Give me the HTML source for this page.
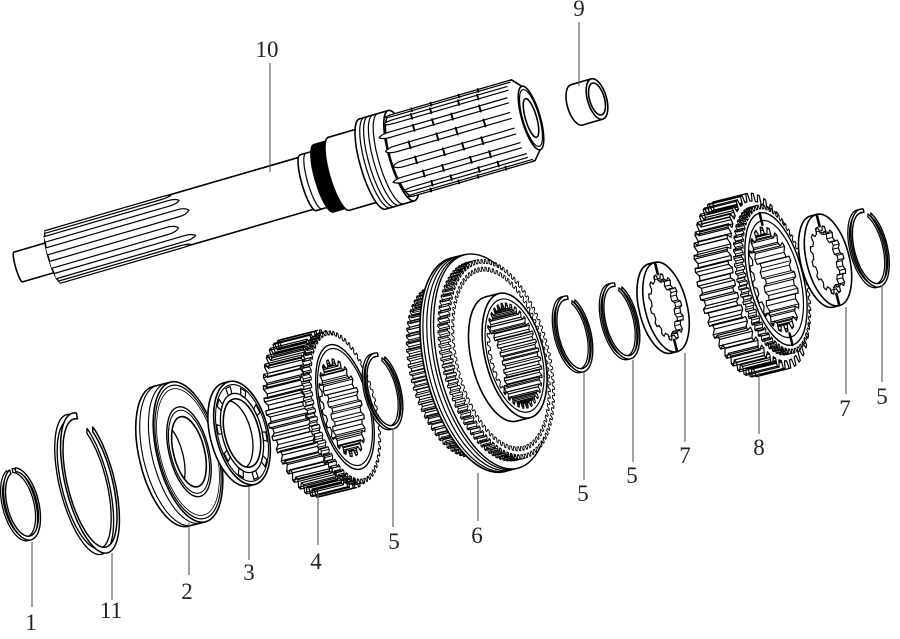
<!DOCTYPE html>
<html><head><meta charset="utf-8"><style>
html,body{margin:0;padding:0;background:#fff;width:900px;height:639px;overflow:hidden}
svg{display:block}
.lb{font-family:"Liberation Serif","DejaVu Serif",serif;font-size:23px;fill:#222;text-anchor:middle}
</style></head><body>
<svg id="s" xmlns="http://www.w3.org/2000/svg" width="900" height="639" viewBox="0 0 900 639">
<rect width="900" height="639" fill="#fff"/>
<g id="parts" stroke-linejoin="round" stroke-linecap="round"></g>
<g stroke="#555" stroke-width="1.1">
<line x1="270" y1="63" x2="270" y2="172"/>
<line x1="579" y1="22" x2="579" y2="86"/>
<line x1="32" y1="542" x2="32" y2="607"/>
<line x1="112" y1="553" x2="112" y2="600"/>
<line x1="189" y1="523" x2="189" y2="575"/>
<line x1="249" y1="487" x2="249" y2="560"/>
<line x1="318" y1="493" x2="318" y2="545"/>
<line x1="393" y1="428" x2="393" y2="527"/>
<line x1="478" y1="473" x2="478" y2="521"/>
<line x1="584" y1="372" x2="584" y2="480"/>
<line x1="633" y1="360" x2="633" y2="462"/>
<line x1="685" y1="353" x2="685" y2="442"/>
<line x1="759" y1="373" x2="759" y2="434"/>
<line x1="846" y1="307" x2="846" y2="394"/>
<line x1="882" y1="285" x2="882" y2="382"/>
</g>
<g class="lb">
<text x="267" y="57">10</text>
<text x="579" y="16">9</text>
<text x="31" y="630">1</text>
<text x="111" y="618">11</text>
<text x="187" y="599">2</text>
<text x="249" y="580">3</text>
<text x="316" y="569">4</text>
<text x="394" y="549">5</text>
<text x="477" y="543">6</text>
<text x="583" y="501">5</text>
<text x="632" y="483">5</text>
<text x="685" y="463">7</text>
<text x="759" y="455">8</text>
<text x="845" y="416">7</text>
<text x="882" y="404">5</text>
</g>
</svg>
<script>
(function(){
const PI=Math.PI, SW=1.6;
const f=n=>Math.round(n*10)/10;
const P=(k,r,t,x0)=>[x0+k*r*Math.cos(t), r*Math.sin(t)];
const ps=a=>a.map(p=>f(p[0])+','+f(p[1])).join(' ');
const poly=(a,fill,sw)=>`<polygon points="${ps(a)}" fill="${fill||'none'}" stroke="#000" stroke-width="${sw||SW}"/>`;
const pl=(a,sw)=>`<polyline points="${ps(a)}" fill="none" stroke="#000" stroke-width="${sw||SW}"/>`;
const E=(x0,r,k,fill,sw)=>`<ellipse cx="${f(x0)}" cy="0" rx="${f(k*r)}" ry="${f(r)}" fill="${fill||'none'}" stroke="#000" stroke-width="${sw||SW}"/>`;
const arcPts=(x0,r,k,t1,t2)=>{const n=Math.max(8,Math.ceil(Math.abs(t2-t1)*20));const a=[];for(let i=0;i<=n;i++)a.push(P(k,r,t1+(t2-t1)*i/n,x0));return a;};
const arc=(x0,r,k,t1,t2,sw)=>pl(arcPts(x0,r,k,t1,t2),sw);
const L=(x1,y1,x2,y2,sw,c)=>`<line x1="${f(x1)}" y1="${f(y1)}" x2="${f(x2)}" y2="${f(y2)}" stroke="${c||'#000'}" stroke-width="${sw||SW}"/>`;
const G=(cx,cy,a,s)=>`<g transform="translate(${cx} ${cy}) rotate(${a})">${s}</g>`;
const rect=(x,y,w,h,fill)=>`<rect x="${f(x)}" y="${f(y)}" width="${f(w)}" height="${f(h)}" fill="${fill}"/>`;
function prof(x0,N,Ro,Ri,k,ph){ph=ph||0;const a=[],s=2*PI/N;for(let i=0;i<N;i++){const c=ph+i*s;a.push(P(k,Ri,c-0.3*s,x0),P(k,Ro,c-0.15*s,x0),P(k,Ro,c+0.15*s,x0),P(k,Ri,c+0.3*s,x0));}return a;}
function cyl(x1,x2,R,k,o){o=o||{};let s=E(x1,R,k,o.bf||'#fff',o.sw)+rect(x1,-R,x2-x1,2*R,o.sf||'#fff')+L(x1,-R,x2,-R,o.sw)+L(x1,R,x2,R,o.sw);if(!o.nf)s+=E(x2,R,k,o.ff||'#fff',o.sw);return s;}
function gcyl(x1,x2,N,Ro,Ri,k,o){o=o||{};const ph=o.ph||0,sw=o.sw||1.2;let s=poly(prof(x1,N,Ro,Ri,k,ph),'#fff',sw)+rect(x1,-Ro,x2-x1,2*Ro,'#fff');const st=2*PI/N;
 for(let i=0;i<N;i++){const c=ph+i*st;[[-0.3,Ri],[-0.15,Ro],[0.15,Ro],[0.3,Ri]].forEach(([fr,r])=>{const t=c+fr*st;const ct=Math.cos(t);if(ct<-0.03){const y=r*Math.sin(t),xo=k*r*ct;s+=L(x1+xo,y,x2+xo,y,sw*0.95);}});}
 s+=L(x1,-Ro,x2,-Ro,sw)+L(x1,Ro,x2,Ro,sw);
 if(!o.nf)s+=poly(prof(x2,N,Ro,Ri,k,ph),'#fff',sw);return s;}
let cid=0;
function bore(x0,r,k,d,o){o=o||{};cid++;const id='cp'+cid;let s=`<clipPath id="${id}"><ellipse cx="${f(x0)}" cy="0" rx="${f(k*r)}" ry="${f(r)}"/></clipPath>`;
 s+=E(x0,r,k,'#fff',o.sw);s+=`<g clip-path="url(#${id})">${E(x0-d,r,k,'none',o.sw||1.3)}</g>`;return s;}
function ispl(x0,N,Ro,Ri,k,d,o){o=o||{};cid++;const id='cp'+cid;const ph=o.ph||0;const pr=prof(x0,N,Ro,Ri,k,ph);let s=`<clipPath id="${id}"><polygon points="${ps(pr)}"/></clipPath>`;
 s+=poly(pr,'#fff',o.sw||1.2);let inner='';const st=2*PI/N;
 for(let i=0;i<N;i++){const c=ph+i*st;[[-0.3,Ri],[-0.15,Ro],[0.15,Ro],[0.3,Ri]].forEach(([fr,r])=>{const t=c+fr*st,ct=Math.cos(t);if(ct>0.05){const y=r*Math.sin(t),xo=k*r*ct;inner+=L(x0+xo,y,x0-d+xo,y,1);}});}
 inner+=poly(prof(x0-d,N,Ro,Ri,k,ph),'none',1.1);
 s+=`<g clip-path="url(#${id})">${inner}</g>`;return s;}
function snap(R,w,k,D,g1,g2,sw){sw=sw||1.4;const t1=g2,t2=g1+2*PI;let s='';
 const bo=arcPts(-D,R,k,t1,t2),bi=arcPts(-D,R-w,k,t2,t1);
 s+=poly(bo.concat(bi),'#fff',sw*0.9);
 const o=arcPts(0,R,k,t1,t2),i=arcPts(0,R-w,k,t2,t1);
 s+=poly(o.concat(i),'#fff',sw);return s;}
function ridges(xs,xe,R,k,N,hw0,jit,dir,sw){let s='';sw=sw||1.2;
 for(let i=0;i<N;i++){const t=PI/2+(i+0.5)*2*PI/N;const ct=Math.cos(t);if(ct>-0.05)continue;
  const y=R*Math.sin(t),xo=k*R*ct,hw=hw0*Math.abs(ct)+0.5;const j=jit?jit[i%jit.length]:0;
  if(dir>0){const a=xs+xo,b=xe+xo+j;s+=`<path d="M${f(a)},${f(y-hw)}L${f(b)},${f(y-hw)}Q${f(b+8)},${f(y-hw)} ${f(b+11)},${f(y)}Q${f(b+8)},${f(y+hw)} ${f(b)},${f(y+hw)}L${f(a)},${f(y+hw)}" fill="#fff" stroke="#000" stroke-width="${sw}"/>`;}
  else{const a=xs+xo+j,b=xe+xo;s+=`<path d="M${f(b)},${f(y-hw)}L${f(a)},${f(y-hw)}Q${f(a-8)},${f(y-hw)} ${f(a-11)},${f(y)}Q${f(a-8)},${f(y+hw)} ${f(a)},${f(y+hw)}L${f(b)},${f(y+hw)}" fill="#fff" stroke="#000" stroke-width="${sw}"/>`;}
 }return s;}

let out='';
/* shaft 10 */
let sh='';
sh+=cyl(-534,-497,15.5,0.17);
sh+=cyl(-497,-232,27,0.2,{nf:1});
sh+=ridges(-497,-372,27,0.2,12,3.2,[0,10,-3,12,4,-5],1);
sh+=cyl(-232,-216,29,0.22)+arc(-226,29,0.22,PI/2,1.5*PI,1.2);
sh+=cyl(-216,-200,35,0.24,{bf:'#000',sf:'#000',nf:1});
sh+=cyl(-200,-165,38,0.25);
sh+=cyl(-165,-135,47,0.26);
[-160,-156,-151,-146].forEach(x=>{sh+=arc(x,47,0.26,PI/2,1.5*PI,1.2);});
sh+=cyl(-135,-8,42,0.27,{nf:1});
sh+=ridges(-128,-8,42,0.27,16,2.6,[0,3,-2,4,1,-3,2,0],-1);
for(let i=0;i<16;i++){const t=PI/2+(i+0.5)*2*PI/16;const ct=Math.cos(t);if(ct>-0.05)continue;const y=42*Math.sin(t),xo=0.27*42*ct,hw=2.6*Math.abs(ct)+0.5;
 [-110,-86,-62,-38].forEach((x,j)=>{const xx=x+xo+((i*7+j*5)%9)-4;sh+=L(xx,y-hw-0.5,xx,y+hw+0.5,1.9);});}
sh+=`<polygon points="-8,-42 0,-33 0,33 -8,42" fill="#fff"/>`+L(-8,-42,0,-33)+L(-8,42,0,33);
sh+=E(0,33,0.28,'#fff')+E(0,29.5,0.28,'none',1.2)+bore(0,20,0.28,40);
out+=G(531,118,-16.2,sh);
/* bushing 9 */
out+=G(597,99,-16.2,cyl(-21,0,21,0.45)+bore(0,16.5,0.45,21));
/* lower parts */
const A=-14;
out+=G(22,504,A,snap(37,4,0.45,3,-1.8,-1.45));
out+=G(90,483,A,snap(72,6,0.34,6,-1.42,-0.84,1.5));
/* bearing 2 */
let b=cyl(-18,0,72,0.43,{nf:1})+arc(-14,72,0.43,PI/2,1.5*PI,1.1)+arc(-5,72,0.43,PI/2,1.5*PI,1.1);
b+=E(0,72,0.43,'#fff')+E(0,68.5,0.43,'none',1.2)+E(0,65,0.43,'none',0.8)+E(1,46,0.43,'#fff',1.4)+E(1,42.5,0.43,'none',1.1)+bore(1,36,0.43,22);
out+=G(188,452,A,b);
/* part 3 */
let p3=cyl(-6,0,53,0.49)+E(0,49.5,0.49,'none',1.1);
for(let i=0;i<10;i++){const t=i*2*PI/10+0.2,k=0.49;p3+=poly([P(k,40.5,t-0.1,0),P(k,48,t-0.1,0),P(k,48,t+0.1,0),P(k,40.5,t+0.1,0)],'#fff',1.2);}
p3+=E(0,40.5,0.49,'none',1.3)+bore(0,35,0.49,8);
out+=G(242,433,A,p3);
/* gear 4 */
let g4=gcyl(-46,-8,38,81,73,0.4)+gcyl(-8,0,56,78,74,0.4,{sw:1.0})+E(0,64,0.4,'#fff',1.4)+E(0,60,0.4,'none',1.2)+ispl(-3,22,50,44,0.4,30);
out+=G(345,407,A,g4);
out+=G(384,391,A,snap(39,3.5,0.43,3,-1.4,-1.0));
/* part 6 */
let p6=gcyl(-50,-24,70,88,83,0.48,{sw:1.0});
p6+=cyl(-24,-10,110,0.48,{nf:1});
[-21,-17,-13].forEach(x=>{p6+=arc(x,110,0.48,PI/2,1.5*PI,1.2);});
p6+=E(-10,110,0.48,'#fff',1.4);
p6+=gcyl(-10,0,90,102,98,0.48,{sw:0.9});
p6+=poly(prof(0,80,94,90,0.48),'none',0.9);
p6+=cyl(0,14,64,0.46)+E(14,58,0.46,'none',1.2)+ispl(14,36,54,49,0.46,36,{sw:1.0});
out+=G(501,359,A,p6);
out+=G(574,334,A,snap(39,3.5,0.43,3,-1.4,-1.0));
out+=G(621,321,A,snap(39,3.5,0.43,3,-1.4,-1.0));
function ring7(R){return cyl(-6,0,R,0.456)+ispl(0,14,R*0.74,R*0.64,0.456,6)+L(0,-R+1,0,-R*0.74,2.6)+L(0,R*0.74,0,R-1,2.6);}
out+=G(666,307,A,ring7(46));
/* gear 8 */
let g8=gcyl(-42,-8,40,90,82,0.4)+gcyl(-8,0,60,76,72,0.4,{sw:1.0})+E(0,68,0.4,'#fff',1.4)+E(0,60,0.4,'none',1.2)+ispl(-2,20,54,47,0.4,30)+L(0,-68,0,-56,2.5)+L(0,56,0,68,2.5);
out+=G(776,279,A,g8);
out+=G(828,260,A,ring7(47));
out+=G(870,248,A,snap(40,3.5,0.43,3,-1.4,-1.0));
document.getElementById('parts').innerHTML=out;
})();
</script>
</body></html>
